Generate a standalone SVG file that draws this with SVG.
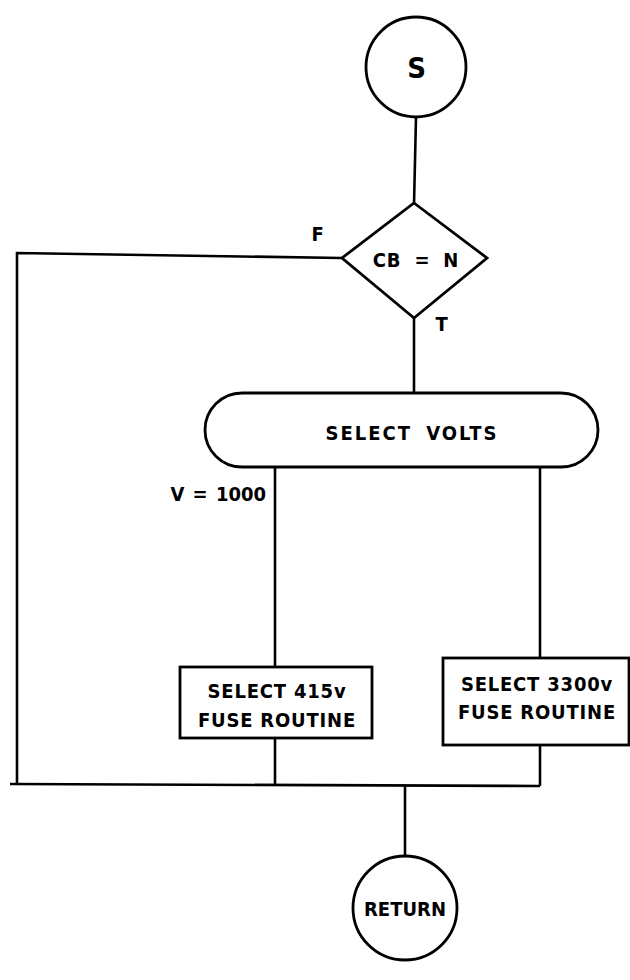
<svg xmlns="http://www.w3.org/2000/svg" width="630" height="980" viewBox="0 0 630 980">
<style>
.s{fill:#fff;stroke:#000;stroke-width:2.8}
.l{fill:none;stroke:#000;stroke-width:2.6}
text{font-family:"DejaVu Sans Condensed","DejaVu Sans",sans-serif;font-weight:bold;font-size:20px;fill:#000;text-anchor:middle;letter-spacing:0.8px}
</style>
<rect width="630" height="980" fill="#fff"/>
<g id="connectors">
<polyline class="l" points="416,117 414,205"/>
<polyline class="l" points="342,258 17,253 17,784"/>
<polyline class="l" points="414,318 414,393"/>
<polyline class="l" points="275,467 275,667"/>
<polyline class="l" points="540,467 540,658"/>
<polyline class="l" points="275,738 275,785"/>
<polyline class="l" points="540,745 540,786"/>
<polyline class="l" points="10,784 540,786"/>
<polyline class="l" points="405,785 405,856"/>
</g>
<g id="start"><circle class="s" cx="416" cy="67" r="50"/><text x="417" y="78" style="font-size:29px">S</text></g>
<g id="decision"><polygon class="s" points="414,203 487,258 414,318 342,258"/><text x="416" y="267" word-spacing="6">CB = N</text></g>
<g id="labelF"><text x="318" y="241">F</text></g>
<g id="labelT"><text x="442" y="331">T</text></g>
<g id="selectVolts"><rect class="s" x="205" y="393" width="393" height="74" rx="37"/><text x="412" y="440" style="letter-spacing:2px" word-spacing="6">SELECT VOLTS</text></g>
<g id="labelV"><text x="266" y="501" style="text-anchor:end;letter-spacing:0px" word-spacing="2">V = 1000</text></g>
<g id="fuse415"><rect class="s" x="180" y="667" width="192" height="71"/><text x="277" y="698">SELECT 415v</text><text x="277" y="727">FUSE ROUTINE</text></g>
<g id="fuse3300"><rect class="s" x="443" y="658" width="186" height="87"/><text x="537" y="691">SELECT 3300v</text><text x="537" y="719">FUSE ROUTINE</text></g>
<g id="return"><circle class="s" cx="405" cy="908" r="52"/><text x="405" y="916" style="letter-spacing:0px">RETURN</text></g>
</svg>
